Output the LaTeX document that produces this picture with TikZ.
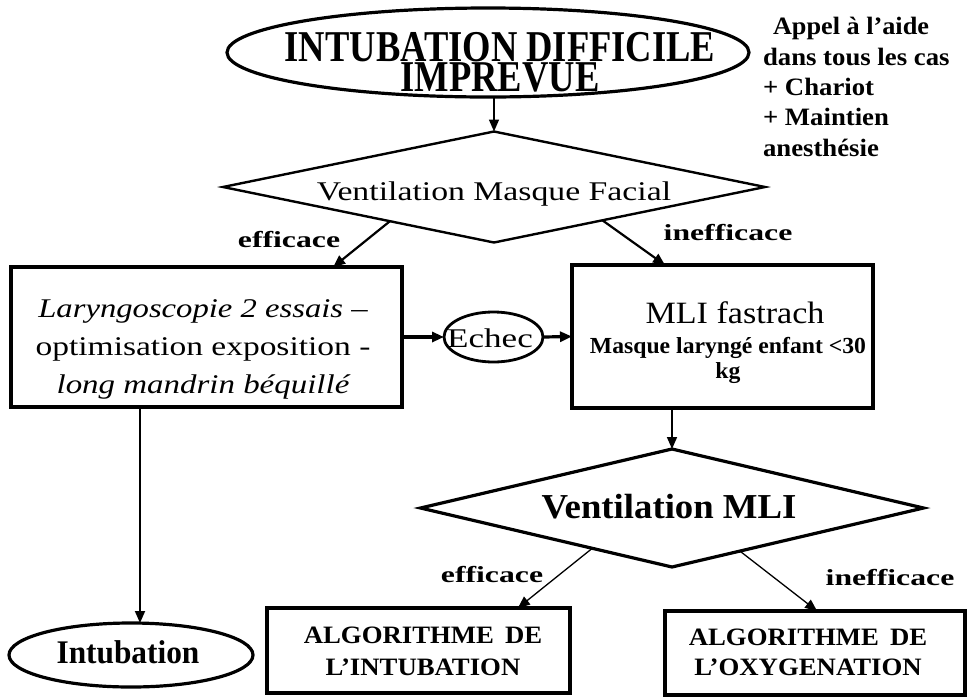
\documentclass[tikz,border=0pt]{standalone}
\usepackage{fontspec}
\setmainfont{Liberation Serif}
\usepackage{graphicx}
\usetikzlibrary{shapes.geometric,arrows.meta,calc}
\newcommand{\hs}[2]{\scalebox{#1}[1]{#2}}
\begin{document}
\begin{tikzpicture}[x=1pt,y=-1pt,
  shp/.style={draw=black, inner sep=0pt, outer sep=0pt, line width=3.2pt},
  boxshape/.style={shp, rectangle},
  ellshape/.style={shp, ellipse},
  diashape/.style={shp, diamond},
  txt/.style={inner sep=0pt, outer sep=0pt, anchor=base, align=center},
  arr/.style={-{Triangle[length=12pt,width=10pt]}, line width=#1},
  arr/.default=1.5pt]
\useasboundingbox (0,0) rectangle (969,697);

% title ellipse
\node[ellshape, minimum width=522pt, minimum height=89pt] (e1) at (488,52.5) {};
\node[txt, font=\bfseries\fontsize{44}{30}\selectfont] (t1) at (500,91)
  {\hs{0.83}{INTUBATION DIFFICILE}\\\hs{0.83}{IMPREVUE}};

% top-right note
\node[inner sep=0pt, outer sep=0pt, anchor=base west, align=left,
  font=\bfseries\fontsize{25}{30.3}\selectfont] (note) at (763,156)
  {\hspace*{10pt}\hs{1.05}{Appel à l’aide}\\\hs{1.07}{dans tous les cas}\\
   \hs{1.07}{+ Chariot}\\\hs{1.07}{+ Maintien}\\\hs{1.07}{anesthésie}};

% first decision
\node[diashape, line width=2.4pt, minimum width=542pt, minimum height=111pt] (d1) at (494,187) {};
\node[txt, font=\fontsize{27}{30}\selectfont] (t2) at (494,200) {\hs{1.25}{Ventilation Masque Facial}};

% left box
\node[boxshape, minimum width=391pt, minimum height=140pt] (lb) at (206.5,337) {};
\node[txt, font=\fontsize{27}{38}\selectfont] (t3) at (203,393)
  {\hs{1.21}{\itshape Laryngoscopie 2 essais –}\\\hs{1.24}{optimisation exposition -}\\\hs{1.22}{\itshape long mandrin béquillé}};

% echec
\node[ellshape, line width=2.8pt, minimum width=99pt, minimum height=50pt] (ec) at (493.5,337) {};
\node[txt, font=\fontsize{27}{30}\selectfont] (t4) at (490,347) {\hs{1.3}{Echec}};

% right box
\node[boxshape, minimum width=301pt, minimum height=143pt] (rb) at (722.5,336.5) {};
\node[txt, font=\fontsize{31}{34}\selectfont] (t5) at (735,323) {\hs{1.1}{MLI fastrach}};
\node[txt, font=\bfseries\fontsize{23}{25}\selectfont] (t6) at (728,378)
  {\hs{1.03}{Masque laryngé enfant <30}\\\hs{1.03}{kg}};

% second decision
\node[diashape, minimum width=503pt, minimum height=118pt] (d2) at (672,508) {};
\node[txt, font=\bfseries\fontsize{35}{38}\selectfont] (t7) at (669,518) {\hs{1.05}{Ventilation MLI}};

% bottom boxes
\node[boxshape, minimum width=303pt, minimum height=85pt] (a1) at (418.5,650.5) {};
\node[txt, font=\bfseries\fontsize{25}{32}\selectfont] (t8) at (423,675)
  {\hs{1.07}{ALGORITHME\hspace{4pt} DE}\\\hs{1.07}{L’INTUBATION}};
\node[boxshape, minimum width=300pt, minimum height=84pt] (a2) at (815,653) {};
\node[txt, font=\bfseries\fontsize{25}{30}\selectfont] (t9) at (808,675)
  {\hs{1.07}{ALGORITHME\hspace{4pt} DE}\\\hs{1.07}{L’OXYGENATION}};

% intubation ellipse
\node[ellshape, minimum width=244pt, minimum height=64pt] (ie) at (131,655) {};
\node[txt, font=\bfseries\fontsize{33}{36}\selectfont] (t10) at (128,663) {\hs{0.95}{Intubation}};

% labels
\node[txt, font=\bfseries\fontsize{23}{25}\selectfont] (l1) at (289,247) {\hs{1.38}{efficace}};
\node[txt, font=\bfseries\fontsize{23}{25}\selectfont] (l2) at (728,240) {\hs{1.38}{inefficace}};
\node[txt, font=\bfseries\fontsize{23}{25}\selectfont] (l3) at (492,582) {\hs{1.38}{efficace}};
\node[txt, font=\bfseries\fontsize{23}{25}\selectfont] (l4) at (890,585) {\hs{1.38}{inefficace}};

% connector end points
\coordinate (s1) at ($(d1.west)!0.616!(d1.south)$);
\coordinate (e1a) at ($(lb.north west)!0.824!(lb.north east)$);
\coordinate (s2) at ($(d1.south)!0.4!(d1.east)$);
\coordinate (e2a) at ($(rb.north west)!0.309!(rb.north east)$);
\coordinate (s3) at ($(d2.west)!0.683!(d2.south)$);
\coordinate (e3a) at ($(a1.north west)!0.828!(a1.north east)$);
\coordinate (s4) at ($(d2.south)!0.27!(d2.east)$);
\coordinate (e4a) at ($(a2.north west)!0.507!(a2.north east)$);
\coordinate (v1) at ($(lb.south west)+(129,0)$);

% connectors
\draw[arr=1.6pt] (d1.north |- e1.south) -- (d1.north);
\draw[arr=2.2pt] (s1) -- (e1a);
\draw[arr=2.2pt] (s2) -- (e2a);
\draw[arr=3.2pt] (lb.east) -- (ec.west);
\draw[arr=3.2pt] (ec.east) -- (rb.west);
\draw[arr=1.6pt] (d2.north |- rb.south) -- (d2.north);
\draw[arr=1.3pt] (s3) -- (e3a);
\draw[arr=1.3pt] (s4) -- (e4a);
\draw[arr=1.8pt] (v1) -- (v1 |- ie.north);
\end{tikzpicture}
\end{document}
